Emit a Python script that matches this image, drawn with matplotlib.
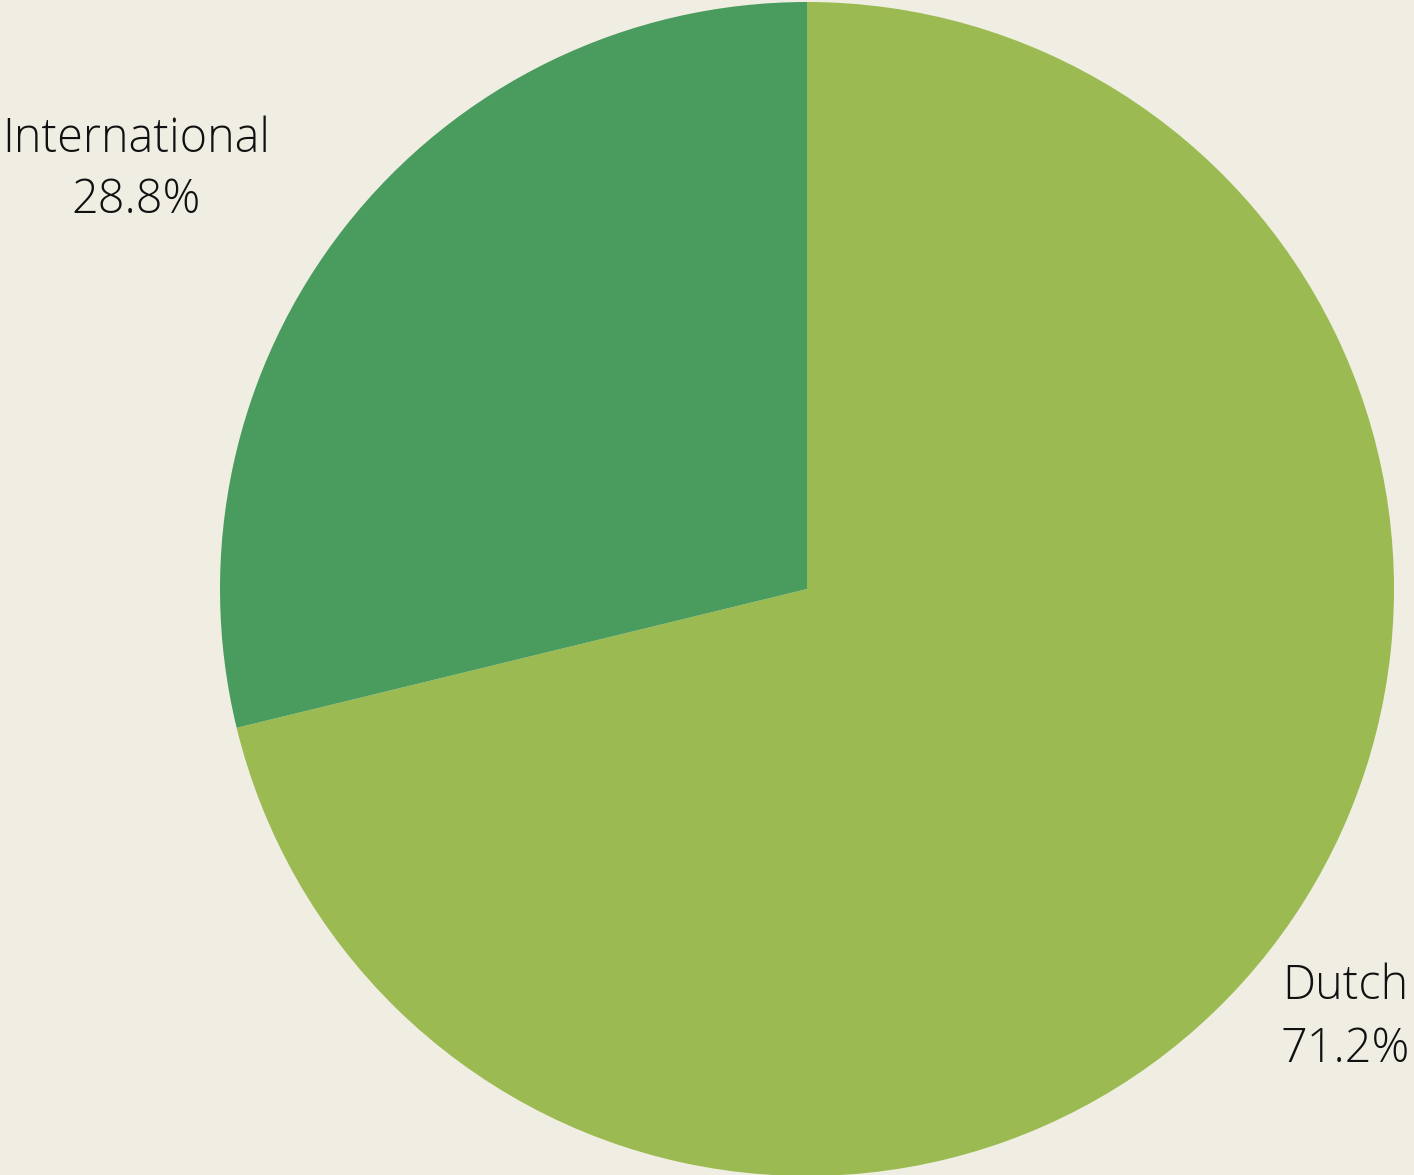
import matplotlib.pyplot as plt

labels = ["Dutch", "International"]
shares = [71.2, 28.8]
colors = ["#9bbb52", "#4a9b5e"]

plt.rcParams['font.family'] = ['Open Sans', 'DejaVu Sans']

fig = plt.figure(figsize=(14.14, 11.75), dpi=100, facecolor="#f0eee3")
ax = fig.add_axes([0, 0, 1, 1])
ax.set_facecolor("#f0eee3")

# work in pixel coordinates (y up)
ax.pie(shares, colors=colors, startangle=90, counterclock=False,
       center=(807, 1175 - 589), radius=587, frame=True,
       wedgeprops=dict(linewidth=0))
ax.set_xlim(0, 1414)
ax.set_ylim(0, 1175)
ax.set_aspect("equal")
ax.axis("off")

label_pos = {"Dutch": (1345, 999, 1062), "International": (136, 152, 213)}
for name, val in zip(labels, shares):
    x, y1, y2 = label_pos[name]
    ax.text(x, 1175 - y1, name, ha="center", va="baseline", fontsize=33.7,
            fontweight="light", color="#111111")
    ax.text(x, 1175 - y2, f"{val}%", ha="center", va="baseline", fontsize=33.7,
            fontweight="light", color="#111111")

fig.savefig("out.png", dpi=100, facecolor=fig.get_facecolor())
